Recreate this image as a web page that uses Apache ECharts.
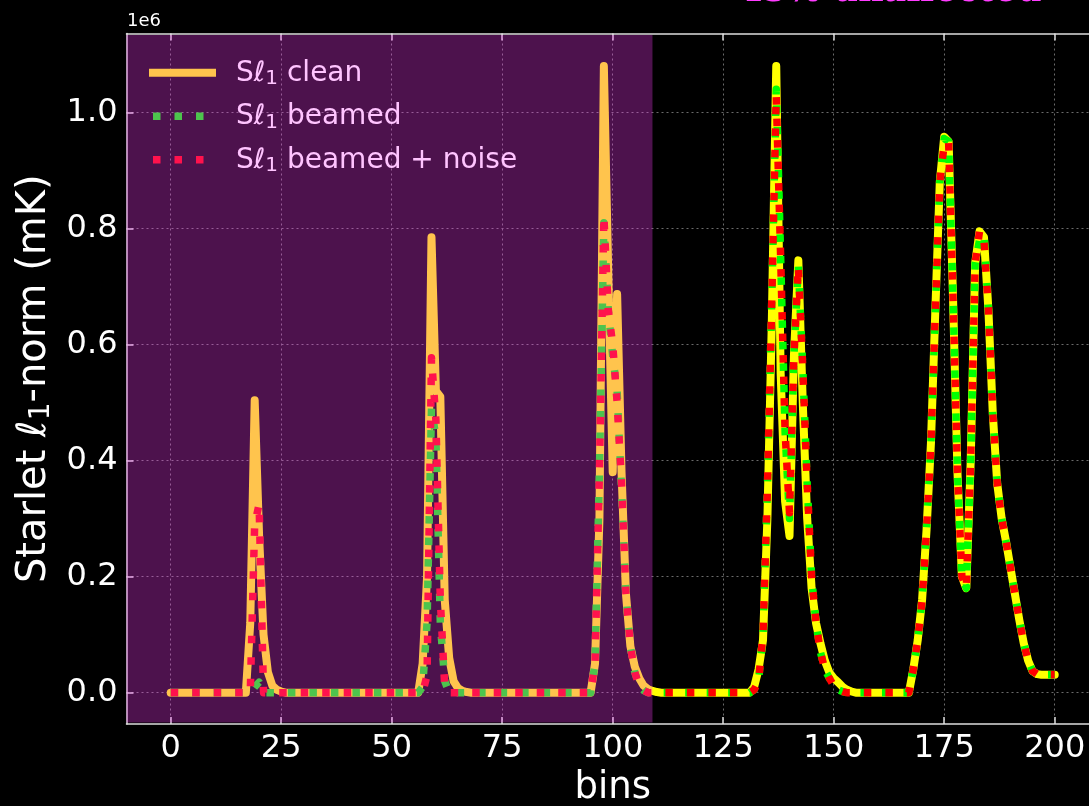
<!DOCTYPE html>
<html><head><meta charset="utf-8">
<script src="https://cdn.jsdelivr.net/npm/echarts@6/dist/echarts.min.js"></script>
<style>html,body{margin:0;background:#000}#c{width:1089px;height:806px}</style>
</head><body><div id="c"></div>
<script>
// bins 0..200
const bins = Array.from({length: 201}, (_, i) => i);
// values in units of 1e6 mK
const clean = [
  0,0,0,0,0,0,0,0,0,0,
  0,0,0,0,0,0,0,0,0.12,0.504,
  0.27,0.10,0.035,0.012,0.005,0.002,0,0,0,0,
  0,0,0,0,0,0,0,0,0,0,
  0,0,0,0,0,0,0,0,0,0,
  0,0,0,0,0,0,0,0.05,0.2,0.785,
  0.52,0.51,0.16,0.06,0.02,0.008,0.003,0.001,0,0,
  0,0,0,0,0,0,0,0,0,0,
  0,0,0,0,0,0,0,0,0,0,
  0,0,0,0,0,0,0.05,0.3,1.08,0.72,
  0.38,0.687,0.38,0.17,0.08,0.045,0.025,0.012,0.006,0.003,
  0.001,0,0,0,0,0,0,0,0,0,
  0,0,0,0,0,0,0,0,0,0,
  0,0,0.01,0.04,0.09,0.3,0.64,1.08,0.55,0.33,
  0.27,0.58,0.745,0.5,0.3,0.18,0.12,0.085,0.055,0.035,
  0.025,0.018,0.01,0.005,0.002,0,0,0,0,0,
  0,0,0,0,0,0,0,0,0.04,0.09,
  0.16,0.28,0.43,0.66,0.88,0.958,0.95,0.68,0.38,0.2,
  0.18,0.4,0.74,0.795,0.785,0.66,0.48,0.36,0.3,0.26,
  0.215,0.17,0.125,0.085,0.055,0.037,0.032,0.031,0.031,0.031,
  0.031
];
const beamed = [
  0,0,0,0,0,0,0,0,0,0,
  0,0,0,0,0,0,0,0,0,0.01,
  0.018,0,0,0,0,0,0,0,0,0,
  0,0,0,0,0,0,0,0,0,0,
  0,0,0,0,0,0,0,0,0,0,
  0,0,0,0,0,0,0,0.01,0.12,0.49,
  0.44,0.12,0.02,0,0,0,0,0,0,0,
  0,0,0,0,0,0,0,0,0,0,
  0,0,0,0,0,0,0,0,0,0,
  0,0,0,0,0,0,0.05,0.38,0.81,0.66,
  0.58,0.52,0.35,0.17,0.08,0.035,0.012,0.004,0,0,
  0,0,0,0,0,0,0,0,0,0,
  0,0,0,0,0,0,0,0,0,0,
  0,0,0.005,0.02,0.1,0.35,0.68,1.04,0.75,0.45,
  0.30,0.58,0.735,0.56,0.36,0.2,0.12,0.07,0.04,0.025,
  0.012,0.005,0.002,0,0,0,0,0,0,0,
  0,0,0,0,0,0,0,0,0.04,0.09,
  0.16,0.28,0.43,0.66,0.88,0.955,0.95,0.68,0.38,0.2,
  0.18,0.4,0.74,0.78,0.79,0.66,0.48,0.36,0.3,0.26,
  0.215,0.17,0.125,0.085,0.055,0.037,0.032,0.031,0.031,0.031,
  0.031
];
const noisy = [
  0,0,0,0,0,0,0,0,0,0,
  0,0,0,0,0,0,0,0,0,0.29,
  0.325,0,0,0,0,0,0,0,0,0,
  0,0,0,0,0,0,0,0,0,0,
  0,0,0,0,0,0,0,0,0,0,
  0,0,0,0,0,0,0,0,0.03,0.577,
  0.47,0.16,0.01,0,0,0,0,0,0,0,
  0,0,0,0,0,0,0,0,0,0,
  0,0,0,0,0,0,0,0,0,0,
  0,0,0,0,0,0,0.05,0.38,0.822,0.66,
  0.6,0.5,0.36,0.17,0.08,0.035,0.012,0.004,0,0,
  0,0,0,0,0,0,0,0,0,0,
  0,0,0,0,0,0,0,0,0,0,
  0,0,0.005,0.02,0.1,0.35,0.68,1.03,0.75,0.45,
  0.31,0.58,0.735,0.56,0.36,0.2,0.12,0.07,0.04,0.025,
  0.012,0.005,0.002,0,0,0,0,0,0,0,
  0,0,0,0,0,0,0,0,0.04,0.09,
  0.16,0.28,0.43,0.66,0.88,0.945,0.95,0.68,0.38,0.2,
  0.18,0.4,0.74,0.796,0.78,0.66,0.48,0.36,0.3,0.26,
  0.215,0.17,0.125,0.085,0.055,0.037,0.032,0.031,0.031,0.031,
  0.031
];
const xTicks = [0,25,50,75,100,125,150,175,200];
const yTicks = [0,0.2,0.4,0.6,0.8,1.0];
const spanStart = -10, spanEnd = 109;   // shaded band
const titleText = '45% unaffected';
const xName = 'bins';
const legendLabels = ['clean', 'beamed', 'beamed + noise'];

const X_MIN = -10, X_MAX = 210, Y_MIN = -0.054, Y_MAX = 1.136;
const pairs = arr => bins.map((b, i) => [b, arr[i]]);
const fontF = 'DejaVu Sans';
const axisCol = '#dddddd';
const gridLine = {show: true, lineStyle: {color: '#6a6a6a', width: 1, type: [2, 3]}};
const tick = {show: true, inside: true, length: 7, lineStyle: {color: axisCol, width: 1.5}};
const DOT = [7.5, 14];
const colors = ['#ffff00', '#00ff00', '#ff0000'];

const legendRich = {
  S: {fontSize: 28, fontFamily: fontF, fill: '#fff'},
  l: {fontSize: 28, fontFamily: fontF, fontStyle: 'italic', fill: '#fff'},
  s: {fontSize: 20, fontFamily: fontF, fill: '#fff', padding: [11, 0, 0, 0]},
  t: {fontSize: 28, fontFamily: fontF, fill: '#fff'}
};
const legendRows = [72.7, 116.2, 159.7];
const legendGraphic = [];
legendLabels.forEach((lab, i) => {
  const y = legendRows[i];
  legendGraphic.push({type: 'line', z: 5, silent: true,
    shape: {x1: i === 0 ? 149 : 153, y1: y, x2: 216, y2: y},
    style: {stroke: colors[i], lineWidth: i === 0 ? 8 : 7.5, lineDash: i === 0 ? null : DOT, lineCap: 'butt'}});
  legendGraphic.push({type: 'text', z: 5, silent: true, x: 236, y: y + 1,
    style: {text: '{S|S}{l|ℓ}{s|1}{t| ' + lab + '}', rich: legendRich, fill: '#fff',
      fontSize: 28, fontFamily: fontF, verticalAlign: 'middle', align: 'left'}});
});

const chart = echarts.init(document.getElementById('c'), null, {renderer: 'canvas'});
chart.setOption({
  backgroundColor: '#000',
  animation: false,
  grid: {left: 126.5, top: 33.5, width: 972.4, height: 690.5, containLabel: false, outerBoundsMode: 'none'},
  xAxis: [{
    type: 'value', min: X_MIN, max: X_MAX,
    axisLine: {show: true, onZero: false, lineStyle: {color: axisCol, width: 1.5}},
    axisTick: Object.assign({customValues: xTicks}, tick),
    axisLabel: {customValues: xTicks, color: '#fff', fontSize: 32, fontFamily: fontF, margin: 9},
    splitLine: gridLine,
    name: xName, nameLocation: 'middle', nameGap: 40,
    nameTextStyle: {color: '#fff', fontSize: 37, fontFamily: fontF}
  }, {
    type: 'value', min: X_MIN, max: X_MAX, position: 'top',
    axisLine: {show: true, onZero: false, lineStyle: {color: axisCol, width: 1.5}},
    axisTick: Object.assign({customValues: xTicks}, tick),
    axisLabel: {show: false}, splitLine: {show: false}
  }],
  yAxis: [{
    type: 'value', min: Y_MIN, max: Y_MAX,
    axisLine: {show: true, onZero: false, lineStyle: {color: axisCol, width: 1.5}},
    axisTick: Object.assign({customValues: yTicks}, tick),
    axisLabel: {customValues: yTicks, color: '#fff', fontSize: 32, fontFamily: fontF, margin: 9,
      formatter: v => v.toFixed(1)},
    splitLine: gridLine,
    name: '{a|Starlet }{l|ℓ}{s|1}{a|-norm (mK)}', nameLocation: 'middle', nameGap: 71,
    nameTextStyle: {color: '#fff', fontSize: 40, fontFamily: fontF,
      rich: {a: {fontSize: 40, fontFamily: fontF, color: '#fff'},
             l: {fontSize: 40, fontFamily: fontF, fontStyle: 'italic', color: '#fff'},
             s: {fontSize: 28, fontFamily: fontF, color: '#fff', padding: [14, 0, 0, 0]}}}
  }],
  graphic: [
    {type: 'text', left: 127, top: 12, style: {text: '1e6', fill: '#fff', fontSize: 18, fontFamily: fontF}},
    {type: 'text', x: 890, y: -8, z: 20, style: {text: titleText, fill: '#ff3cff', fontSize: 35,
      fontFamily: 'DejaVu Serif', fontWeight: 'bold', align: 'center', verticalAlign: 'middle'}}
  ].concat(legendGraphic),
  series: [
    {name: 'clean', type: 'line', data: pairs(clean), symbol: 'none', z: 2,
     lineStyle: {color: colors[0], width: 8, cap: 'round', join: 'round'}},
    {name: 'beamed', type: 'line', data: pairs(beamed), symbol: 'none', z: 2,
     lineStyle: {color: colors[1], width: 7.5, type: DOT, cap: 'butt', join: 'round'}},
    {name: 'noise', type: 'line', data: pairs(noisy), symbol: 'none', z: 2,
     lineStyle: {color: colors[2], width: 7.5, type: DOT, cap: 'butt', join: 'round'}},
    {name: 'span', type: 'line', data: [], symbol: 'none', z: 10, silent: true,
     markArea: {silent: true, z: 10, itemStyle: {color: 'rgba(255,60,255,0.3)'},
       data: [[{xAxis: spanStart, yAxis: Y_MIN + 0.0025}, {xAxis: spanEnd, yAxis: Y_MAX - 0.0025}]]}}
  ]
});
</script></body></html>
